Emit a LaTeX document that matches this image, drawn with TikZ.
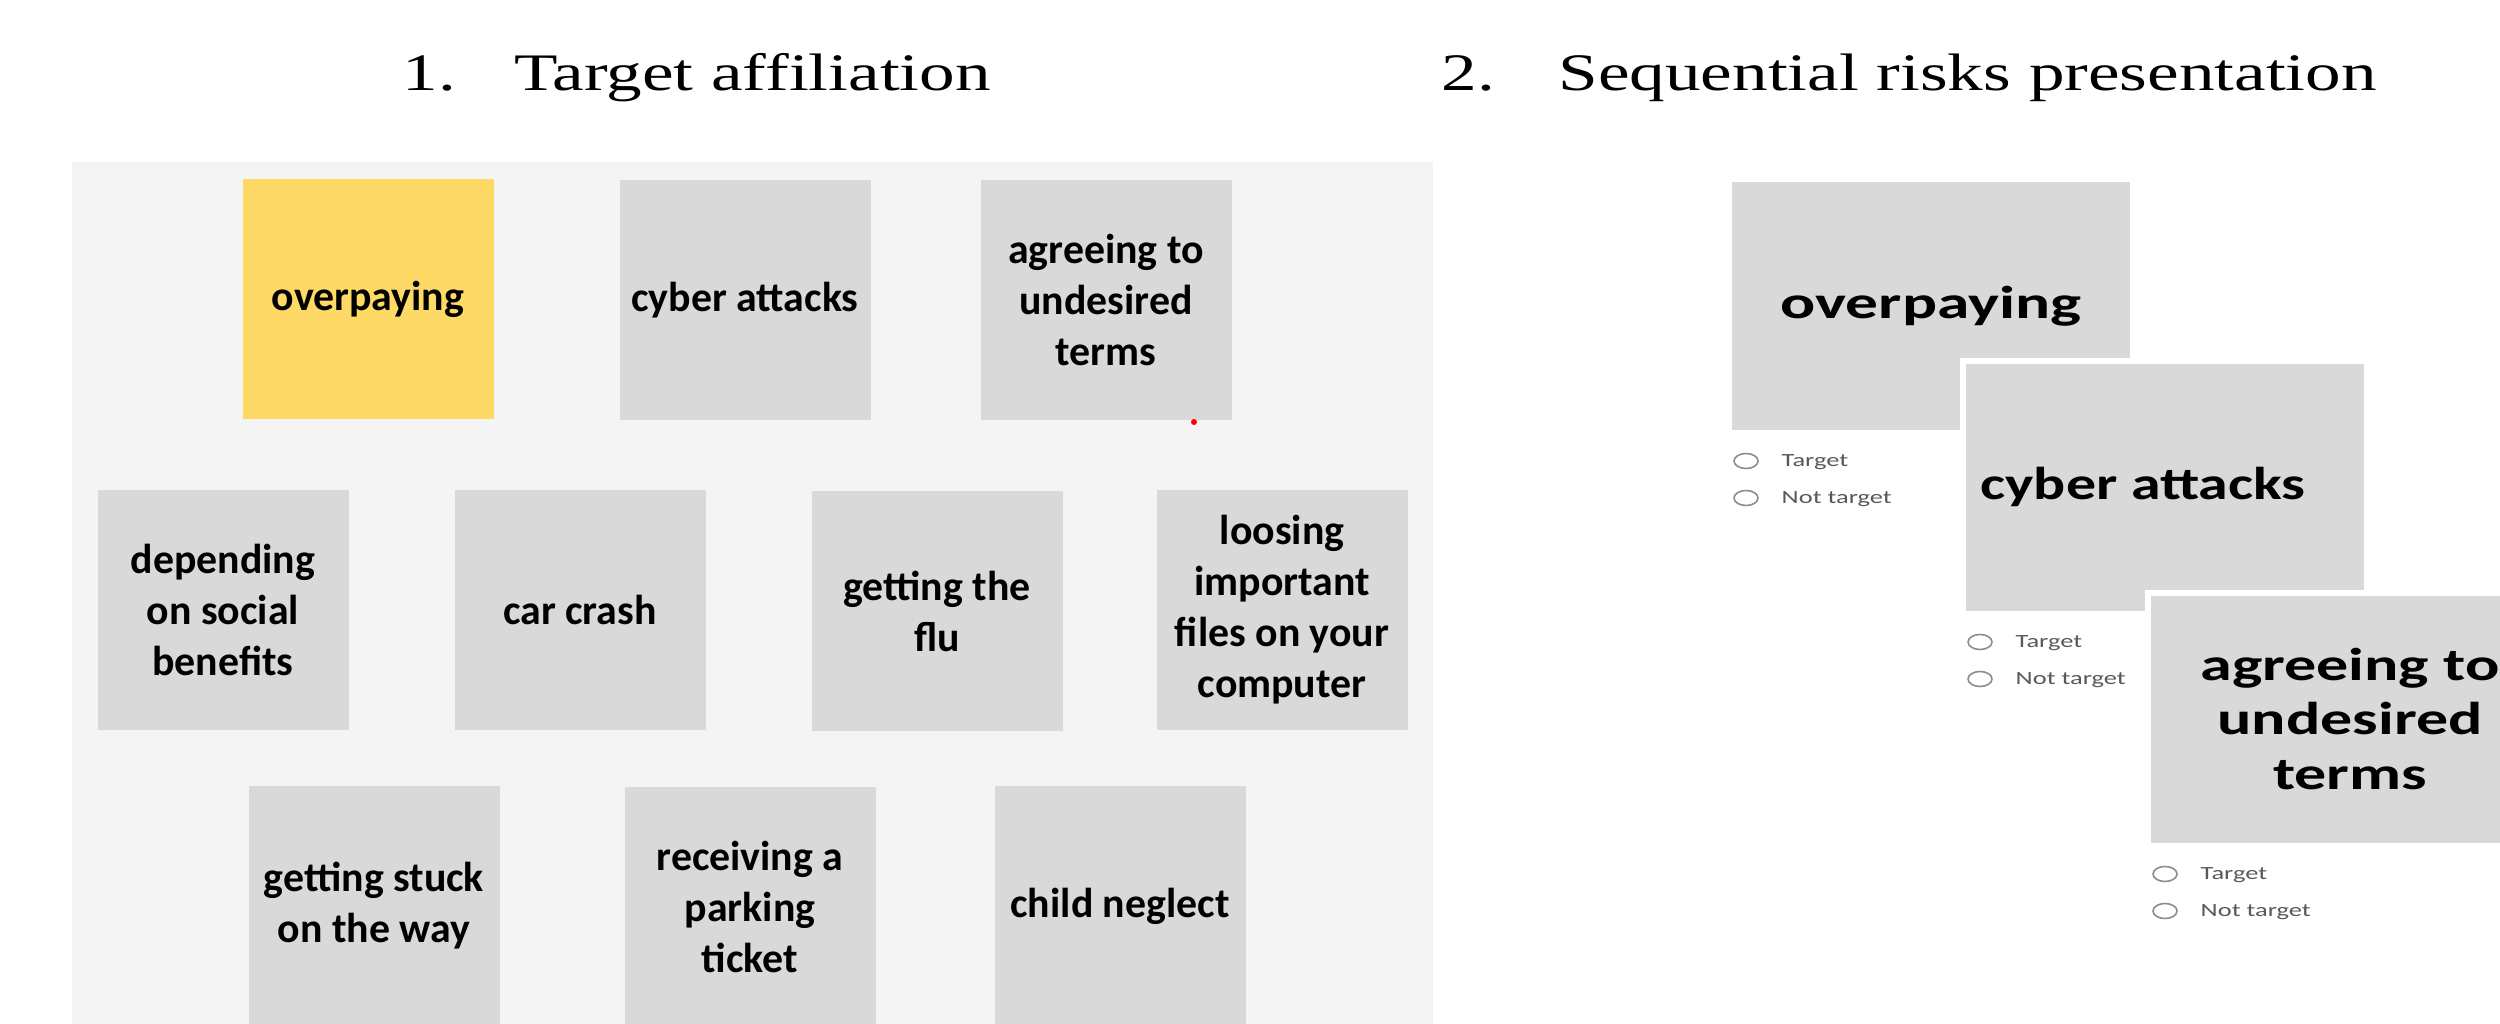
\documentclass[tikz,border=0pt]{standalone}
\usepackage{fontspec}
\usepackage{graphicx}
\setmainfont{Liberation Serif}
\newfontfamily\cardfont{Carlito}
\usetikzlibrary{calc}
\definecolor{cardgray}{HTML}{D9D9D9}
\definecolor{cardyellow}{HTML}{FFD966}
\definecolor{panelgray}{HTML}{F4F4F4}
\definecolor{optgray}{HTML}{595959}
\definecolor{ringgray}{HTML}{8C8C8C}
\newcommand{\widetxt}[2][1.42]{\scalebox{#1}[1]{#2}}
\tikzset{
  heading/.style={anchor=base west,inner sep=0pt,font=\fontsize{15pt}{18pt}\selectfont},
  card/.style={fill=cardgray,minimum width=25.1mm,minimum height=24mm,inner sep=0pt,align=center,
    font=\cardfont\bfseries\fontsize{11.9pt}{14.5pt}\selectfont},
  bigcard/.style={fill=cardgray,draw=white,line width=0.6mm,minimum width=40.4mm,minimum height=25.3mm,
    inner sep=0pt,align=center,font=\cardfont\bfseries\fontsize{13.1pt}{15.4pt}\selectfont},
  opt/.style={anchor=base west,inner sep=0pt,text=optgray,font=\cardfont\fontsize{5.3pt}{6pt}\selectfont},
  ring/.style={draw=ringgray,line width=0.45pt,fill=white}
}
\begin{document}
\begin{tikzpicture}[x=0.1mm,y=-0.1mm]
\useasboundingbox (0,0) rectangle (2500,1024);
\clip (0,0) rectangle (2500,1024);
\fill[white] (0,0) rectangle (2500,1024);
% headings
\node[heading] (h1) at (402,91) {\widetxt[1.35]{1.\hspace{4.3mm}Target affiliation}};
\node[heading] (h2) at (1441,91) {\widetxt[1.35]{2.\hspace{4.7mm}Sequential risks presentation}};
% step 1: board of risks
\fill[panelgray] (72,162) rectangle (1433,1030);
\node[card,fill=cardyellow] (c1) at (368,299) {overpaying};
\foreach \n/\x/\y/\t in {2/745/300/cyber attacks,3/1106/300/{agreeing to\\undesired\\terms},
  4/223/610/{depending\\on social\\benefits},5/580/610/car crash,6/937/611/{getting the\\flu},
  7/1282/610/{loosing\\important\\files on your\\computer},8/374/906/{getting stuck\\on the way},
  9/750/907/{receiving a\\parking\\ticket},10/1120/906/child neglect}
  \node[card] (c\n) at (\x,\y) {\t};
\fill[red] (1194,422) circle (0.3mm);
% step 2: one risk after the other
\node[bigcard] (r1) at (1931,306) {\widetxt{overpaying}};
\node[bigcard] (r2) at (2165,487) {\widetxt[1.3]{cyber attacks}\hspace*{4.4mm}};
\node[bigcard] (r3) at (2350,719) {\widetxt[1.39]{agreeing to}\\\widetxt[1.39]{undesired}\\\widetxt[1.39]{terms}};
\foreach \r in {r1,r2,r3}{
  \draw[ring] ($(\r.center)+(-185,155)$) ellipse [x radius=1.2mm,y radius=0.75mm];
  \draw[ring] ($(\r.center)+(-185,192)$) ellipse [x radius=1.2mm,y radius=0.75mm];
  \node[opt] (t\r) at ($(\r.center)+(-150,160)$) {\widetxt{Target}};
  \node[opt] (n\r) at ($(\r.center)+(-150,197)$) {\widetxt{Not target}};
}
\end{tikzpicture}
\end{document}
